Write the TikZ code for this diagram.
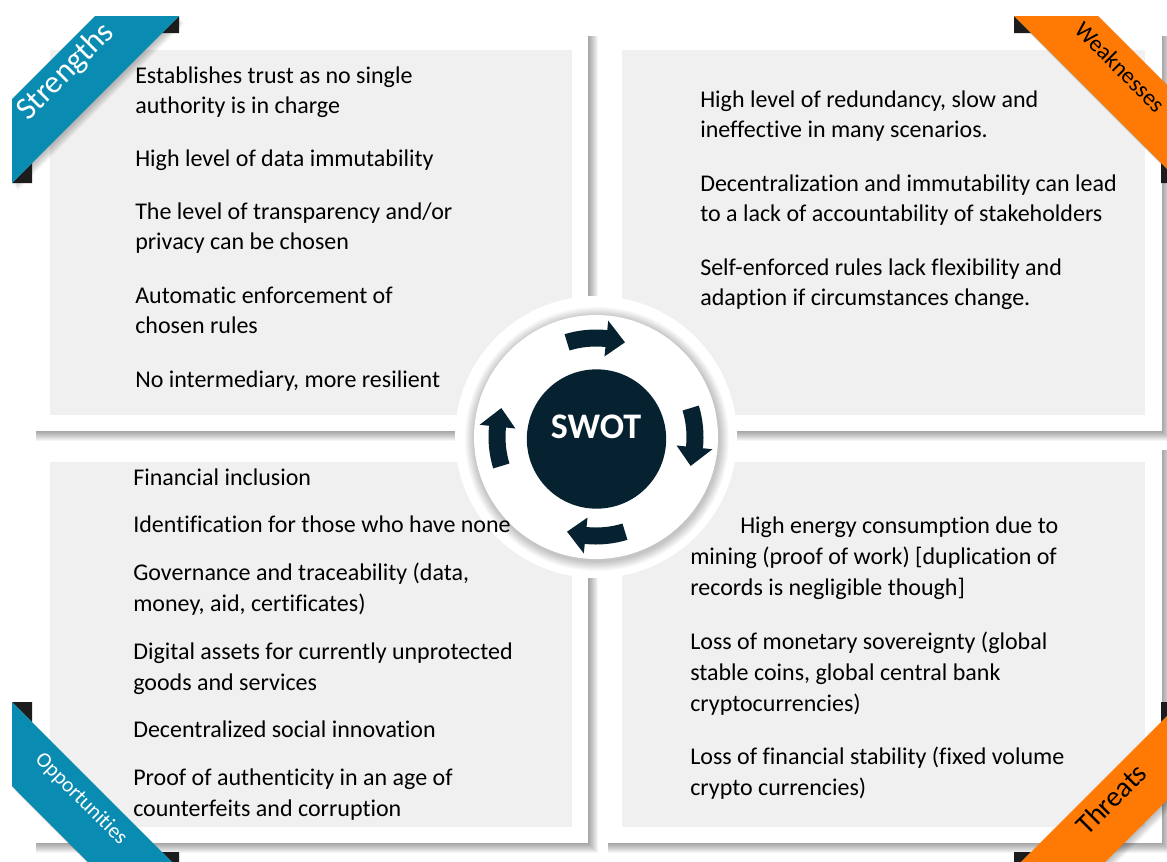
\documentclass[tikz,border=0pt]{standalone}
\usepackage{fontspec}
\setmainfont{Carlito}[Ligatures={NoCommon}]
\definecolor{swotblue}{HTML}{0A8BB1}
\definecolor{swotorange}{HTML}{FF7A05}
\definecolor{swotnavy}{HTML}{06212F}
\definecolor{panelgray}{HTML}{F0F0F0}
\definecolor{folddark}{HTML}{1C1C1C}
\tikzset{
  bodyA/.style={anchor=north west, inner sep=0pt, align=left, text=black,
    font=\fontsize{18}{22.5}\selectfont},
  bodyB/.style={anchor=north west, inner sep=0pt, align=left, text=black,
    font=\fontsize{18}{23.25}\selectfont},
  paneltone/.style={fill=panelgray},
  ribbontext/.style={inner sep=0pt, anchor=center},
  fold/.style={fill=folddark},
  arrowband/.style={fill=swotnavy},
}
\newcommand\panelshadow[4]{%
  \foreach \s in {1,...,10}{\fill[black,opacity=0.04] (#1+3,#2+3) rectangle (#3+\s,#4+\s);}}
\newcommand\ribbonshadow[1]{%
  \foreach \s in {1,...,8}{\fill[black,opacity=0.035,shift={(\s*0.7,\s*0.9)}] #1;}}
\begin{document}
\begin{tikzpicture}[x=0.75pt,y=-0.75pt]
\useasboundingbox (0,0) rectangle (1167,861);
\clip (0,0) rectangle (1167,861);
\fill[white] (0,0) rectangle (1167,861);

% panels
\panelshadow{33}{33}{588}{431}
\panelshadow{605}{33}{1162}{431}
\panelshadow{33}{447}{588}{843}
\panelshadow{605}{447}{1162}{843}
\fill[white] (33,33) rectangle (588,431);
\fill[white] (605,33) rectangle (1162,431);
\fill[white] (33,447) rectangle (588,843);
\fill[white] (605,447) rectangle (1162,843);
\fill[paneltone] (50,50) rectangle (572,415);
\fill[paneltone] (622,50) rectangle (1145,415);
\fill[paneltone] (50,462) rectangle (572,827);
\fill[paneltone] (622,462) rectangle (1145,827);

% centre disc
\fill[white] (596,437) circle (141);
\foreach \s in {10,...,1}{\fill[black,opacity=0.022] (597,439) circle (122+\s);}
\fill[white] (596,437) circle (122);

\begin{scope}[shift={(596,437)}, yscale=-1]
  \foreach \c in {90,0,-90,180}{
    \fill[arrowband] (\c+17:107.5) arc[start angle=\c+17, end angle=\c-6, radius=107.5]
      -- (\c-6:117) -- (\c-17:99) -- (\c-6:81) -- (\c-6:90.5)
      arc[start angle=\c-6, end angle=\c+17, radius=90.5] -- cycle;
  }
\end{scope}
\node[circle, fill=swotnavy, inner sep=0pt, minimum size=104.5pt] (core) at (596.5,439) {};
\node[anchor=base, inner sep=0pt, text=white, font=\fontsize{27}{30}\selectfont\bfseries] (swot) at (596,438) {SWOT};

% ribbons
\ribbonshadow{(95,16) -- (179,16) -- (12,183) -- (12,99) -- cycle}
\fill[fold] (179,16) -- (179,33) -- (162,33) -- cycle;
\fill[fold] (12,183) -- (32,163) -- (32,183) -- cycle;
\fill[swotblue] (95,16) -- (179,16) -- (12,183) -- (12,99) -- cycle;
\node[ribbontext, rotate=45, text=white, font=\fontsize{24}{26}\selectfont] (strengths) at (66,72) {Strengths};

\ribbonshadow{(1098,16) -- (1014,16) -- (1181,183) -- (1181,99) -- cycle}
\fill[fold] (1014,16) -- (1014,33) -- (1031,33) -- cycle;
\fill[fold] (1181,183) -- (1161,163) -- (1161,183) -- cycle;
\fill[swotorange] (1098,16) -- (1014,16) -- (1181,183) -- (1181,99) -- cycle;
\node[ribbontext, rotate=-45, text=black, font=\fontsize{17.5}{20}\selectfont] (weaknesses) at (1120,67) {Weaknesses};

\ribbonshadow{(95,869) -- (179,869) -- (12,702) -- (12,786) -- cycle}
\fill[fold] (12,702) -- (32,722) -- (32,702) -- cycle;
\fill[fold] (179,869) -- (179,852) -- (162,852) -- cycle;
\fill[swotblue] (95,869) -- (179,869) -- (12,702) -- (12,786) -- cycle;
\node[ribbontext, rotate=-45, text=white, font=\fontsize{16}{18}\selectfont] (opportunities) at (81,799) {Opportunities};

\ribbonshadow{(1098,869) -- (1014,869) -- (1181,702) -- (1181,786) -- cycle}
\fill[fold] (1181,702) -- (1161,722) -- (1161,702) -- cycle;
\fill[fold] (1014,869) -- (1014,852) -- (1031,852) -- cycle;
\fill[swotorange] (1098,869) -- (1014,869) -- (1181,702) -- (1181,786) -- cycle;
\node[ribbontext, rotate=45, text=black, font=\fontsize{21.5}{23}\selectfont] (threats) at (1111,799) {Threats};

% strengths text
\node[bodyA] (s1) at (135,62) {\strut Establishes trust as no single\\authority is in charge};
\node[bodyA] (s2) at (135,145) {\strut High level of data immutability};
\node[bodyA] (s3) at (135,198) {\strut The level of transparency and/or\\privacy can be chosen};
\node[bodyA] (s4) at (135,282) {\strut Automatic enforcement of\\chosen rules};
\node[bodyA] (s5) at (135,366) {\strut No intermediary, more resilient};

% weaknesses text
\node[bodyA] (w1) at (700,86) {\strut High level of redundancy, slow and\\ineffective in many scenarios.};
\node[bodyA] (w2) at (700,170) {\strut Decentralization and immutability can lead\\to a lack of accountability of stakeholders};
\node[bodyA] (w3) at (700,254) {\strut Self-enforced rules lack flexibility and\\adaption if circumstances change.};

% opportunities text
\node[bodyB] (o1) at (133,463.3) {\strut Financial inclusion};
\node[bodyB] (o2) at (133,510.3) {\strut Identification for those who have none};
\node[bodyB] (o3) at (133,558.3) {\strut Governance and traceability (data,\\money, aid, certificates)};
\node[bodyB] (o4) at (133,637.3) {\strut Digital assets for currently unprotected\\goods and services};
\node[bodyB] (o5) at (133,715.3) {\strut Decentralized social innovation};
\node[bodyB] (o6) at (133,763.3) {\strut Proof of authenticity in an age of\\counterfeits and corruption};

% threats text
\node[bodyB] (t1) at (690,511.3) {\strut\hspace*{37.5pt}High energy consumption due to\\mining (proof of work) [duplication of\\records is negligible though]};
\node[bodyB] (t2) at (690,627.3) {\strut Loss of monetary sovereignty (global\\stable coins, global central bank\\cryptocurrencies)};
\node[bodyB] (t3) at (690,742.3) {\strut Loss of financial stability (fixed volume\\crypto currencies)};
\end{tikzpicture}
\end{document}
